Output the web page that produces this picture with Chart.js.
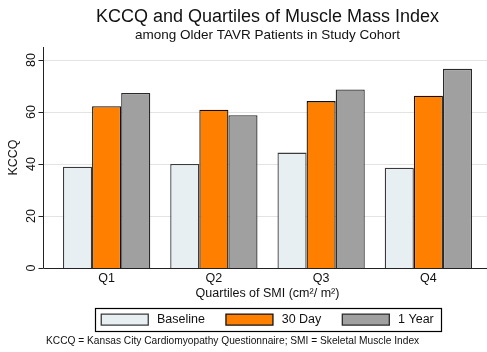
<!DOCTYPE html>
<html>
<head>
<meta charset="utf-8">
<script src="https://cdn.jsdelivr.net/npm/chart.js@4"></script>
<style>
html,body{margin:0;padding:0;background:#fff;}
#wrap{width:487px;height:352px;position:relative;}
</style>
</head>
<body>
<div id="wrap"><canvas id="c" width="487" height="352"></canvas></div>
<script>
const categories = ["Q1", "Q2", "Q3", "Q4"];
const baselineValues = [39.0, 40.0, 44.4, 38.6];
const day30Values = [62.2, 60.9, 64.2, 66.3];
const year1Values = [67.3, 58.8, 68.7, 76.6];
const yTickValues = [0, 20, 40, 60, 80];
const seriesNames = ["Baseline", "30 Day", "1 Year"];
const titleText = "KCCQ and Quartiles of Muscle Mass Index";
const subtitleText = "among Older TAVR Patients in Study Cohort";
const xTitleText = "Quartiles of SMI (cm\u00B2/ m\u00B2)";
const yTitleText = "KCCQ";
const footnoteText = "KCCQ = Kansas City Cardiomyopathy Questionnaire; SMI = Skeletal Muscle Index";

const FONT = "'Liberation Sans', Arial, Helvetica, sans-serif";
const AXIS_GAP = 10; // plot region extends left of first category slot

const framePlugin = {
  id: 'frame',
  beforeDatasetsDraw(chart) {
    const {ctx, chartArea, scales: {y}} = chart;
    const x0 = chartArea.left - AXIS_GAP;
    const x1 = chart.width;
    ctx.save();
    ctx.lineWidth = 1;
    ctx.strokeStyle = '#e3e3e3';
    yTickValues.forEach(v => {
      if (v === 0) return;
      const py = Math.round(y.getPixelForValue(v)) + 0.5;
      ctx.beginPath(); ctx.moveTo(x0, py); ctx.lineTo(x1, py); ctx.stroke();
    });
    ctx.restore();
  },
  afterDatasetsDraw(chart) {
    const {ctx, chartArea, scales: {y}} = chart;
    const x0 = Math.round(chartArea.left - AXIS_GAP) + 0.5;
    const x1 = chart.width;
    ctx.save();
    ctx.strokeStyle = '#222';
    ctx.lineWidth = 1;
    ctx.beginPath(); ctx.moveTo(x0, chartArea.top); ctx.lineTo(x0, chartArea.bottom); ctx.stroke();
    yTickValues.forEach(v => {
      const py = Math.round(y.getPixelForValue(v)) + 0.5;
      ctx.beginPath(); ctx.moveTo(x0 - 5, py); ctx.lineTo(x0, py); ctx.stroke();
    });
    const pb = Math.round(y.getPixelForValue(0)) + 0.5;
    ctx.beginPath(); ctx.moveTo(x0, pb); ctx.lineTo(x1, pb); ctx.stroke();
    const lg = chart.legend;
    if (lg && lg.legendHitBoxes && lg.legendHitBoxes.length) {
      const hb = lg.legendHitBoxes;
      const first = hb[0], last = hb[hb.length - 1];
      const cy = first.top + first.height / 2;
      const lx = Math.round(first.left - 6) + 0.5;
      const rx = Math.round(last.left + last.width + 7) + 0.5;
      ctx.strokeStyle = '#000';
      ctx.lineWidth = 1.2;
      ctx.strokeRect(lx, Math.round(cy - 12) + 0.5, rx - lx, 23);
    }
    ctx.fillStyle = '#111';
    ctx.font = "10.2px " + FONT;
    ctx.textAlign = 'left';
    ctx.textBaseline = 'middle';
    ctx.fillText(footnoteText, 46, 341);
    ctx.restore();
  }
};

new Chart(document.getElementById('c'), {
  type: 'bar',
  data: {
    labels: categories,
    datasets: [
      { label: seriesNames[0], data: baselineValues, backgroundColor: '#e8eff2', borderColor: '#3a3a3a', borderWidth: 1.3 },
      { label: seriesNames[1], data: day30Values, backgroundColor: '#ff8000', borderColor: '#111', borderWidth: 1.3 },
      { label: seriesNames[2], data: year1Values, backgroundColor: '#a0a0a0', borderColor: '#2a2a2a', borderWidth: 1.3 }
    ]
  },
  plugins: [framePlugin],
  options: {
    responsive: false,
    animation: false,
    devicePixelRatio: 1,
    datasets: { bar: { categoryPercentage: 0.814, barPercentage: 1.0 } },
    layout: { padding: { left: 0, right: 5, top: 0, bottom: 16.15 } },
    scales: {
      x: {
        type: 'category',
        offset: true,
        grid: { display: false, drawTicks: false },
        border: { display: false },
        ticks: { color: '#111', font: { family: FONT, size: 12.5 }, padding: 2.5 },
        title: { display: true, text: xTitleText, color: '#111', font: { family: FONT, size: 12.5 }, padding: { top: -2.5, bottom: -8.25 } }
      },
      y: {
        min: 0, max: 85,
        grid: { display: false, drawTicks: false },
        border: { display: false },
        afterBuildTicks(scale) { scale.ticks = yTickValues.map(v => ({ value: v })); },
        afterFit(scale) { scale.width = 53; },
        ticks: { color: '#111', font: { family: FONT, size: 12.5 }, minRotation: 90, maxRotation: 90, crossAlign: 'center', padding: 14.5 },
        title: { display: true, text: yTitleText, color: '#111', font: { family: FONT, size: 12.5 }, padding: { top: 6.5, bottom: 0 } }
      }
    },
    plugins: {
      title: { display: true, fullSize: false, text: titleText, color: '#111', font: { family: FONT, size: 18, weight: 'normal', lineHeight: 1.0 }, padding: { top: 8, bottom: 0 } },
      subtitle: { display: true, fullSize: false, text: subtitleText, color: '#111', font: { family: FONT, size: 13.5, lineHeight: 1.0 }, padding: { top: 3, bottom: 4.5 } },
      legend: {
        display: true, position: 'bottom', fullSize: false,
        labels: {
          boxWidth: 47, boxHeight: 11, padding: 21, color: '#111', font: { family: FONT, size: 12.5 },
          generateLabels(chart) {
            return Chart.defaults.plugins.legend.labels.generateLabels(chart).map(it => Object.assign(it, { text: '\u2009' + it.text }));
          }
        }
      },
      tooltip: { enabled: false }
    }
  }
});
</script>
</body>
</html>
